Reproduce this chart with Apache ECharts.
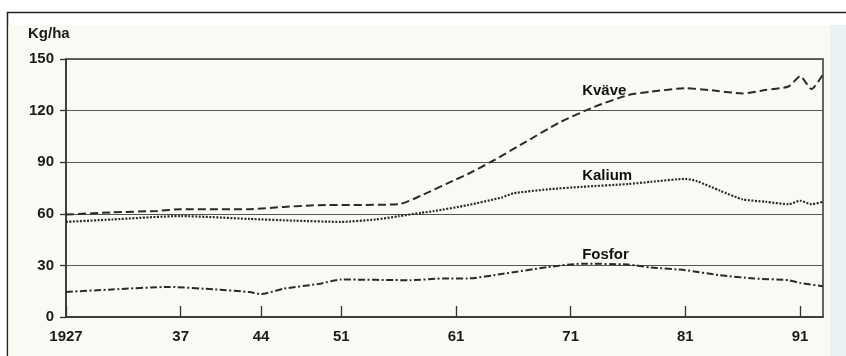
<!DOCTYPE html>
<html>
<head>
<meta charset="utf-8">
<script src="https://cdn.jsdelivr.net/npm/echarts@6/dist/echarts.min.js"></script>
<style>
html,body{margin:0;padding:0;background:#fff;}
#c{width:846px;height:356px;}
</style>
</head>
<body>
<div id="c"></div>
<script>
// Data (year, kg/ha)
const kvaveYears  = [1927,1931,1935,1937,1943,1946,1949,1956,1958,1961,1962,1964,1967,1970,1973,1976,1978,1981,1983,1986,1988,1990,1991,1992,1993];
const kvaveValues = [59.6,60.8,61.7,62.7,62.7,64.0,65.0,65.6,70.7,80.0,83.0,90.0,101.5,113.0,122.0,129.0,131.0,133.0,132.0,130.0,132.0,134.0,140.0,132.5,141.0];

const kaliumYears  = [1927,1931,1937,1943,1947,1951,1954,1956,1958,1959,1962,1965,1966,1969,1972,1976,1978,1981,1982,1984,1986,1988,1990,1991,1992,1993];
const kaliumValues = [55.3,56.7,58.7,57.0,56.0,55.3,56.7,58.6,60.6,61.5,65.0,69.5,71.9,74.2,75.7,77.3,78.6,80.3,79.0,73.5,68.4,67.0,65.6,67.6,65.6,67.0];

const fosforYears  = [1927,1931,1936,1940,1943,1944,1946,1949,1951,1957,1960,1962,1965,1969,1972,1976,1978,1981,1984,1987,1990,1991,1993];
const fosforValues = [14.6,16.0,17.5,16.0,14.5,13.3,16.5,19.2,21.8,21.4,22.4,22.4,25.0,29.0,31.0,30.5,28.8,27.2,24.3,22.4,21.4,19.8,17.9];

const tickYears = [1927,1937,1944,1951,1961,1971,1981,1991];
const tickLabels = ['1927','37','44','51','61','71','81','91'];

const seriesNames = ['Kväve','Kalium','Fosfor'];
const labelYears  = [1972,1972,1972];
const labelValues = [131.4,82.0,36.0];

const yUnit = 'Kg/ha';

function pairs(xs, ys){ return xs.map((x,i)=>[x, ys[i]]); }

const chart = echarts.init(document.getElementById('c'), null, {renderer:'canvas'});
const FONT = 'Liberation Sans, Arial, Helvetica, sans-serif';
const ink = '#2a2a2a';

chart.setOption({
  animation:false,
  backgroundColor:'#ffffff',
  graphic:[
    {type:'rect', z:-10, shape:{x:7.5, y:12.5, width:845, height:350}, style:{fill:'#ffffff', stroke:'#222', lineWidth:1.5}},
    {type:'rect', z:-9, shape:{x:8.5, y:25, width:822, height:331}, style:{fill:'#fafaf5'}},
    {type:'rect', z:-9, shape:{x:830, y:25, width:16, height:331}, style:{fill:'#eaf1f3'}},
    {type:'text', z:10, left:28, top:26, style:{text:yUnit, fill:'#1a1a1a', font:'bold 15px ' + FONT}}
  ],
  grid:{left:66, right:23, top:59, bottom:39, show:true, borderColor:'#333', borderWidth:1.5, backgroundColor:'transparent'},
  xAxis:{
    type:'value', min:1927, max:1993,
    axisLine:{show:true, onZero:false, lineStyle:{color:'#333', width:1.5}},
    axisTick:{show:true, inside:true, length:11, customValues:tickYears, lineStyle:{color:'#333', width:1.3}},
    axisLabel:{show:true, customValues:tickYears, margin:12,
      formatter:(v)=>{const i=tickYears.indexOf(v); return i>=0?tickLabels[i]:'';},
      color:'#1a1a1a', fontFamily:FONT, fontWeight:'bold', fontSize:15},
    splitLine:{show:false}
  },
  yAxis:{
    type:'value', min:0, max:150, interval:30,
    axisLine:{show:true, lineStyle:{color:'#333', width:1.5}},
    axisTick:{show:true, inside:false, length:6, lineStyle:{color:'#333', width:1.3}},
    axisLabel:{margin:12, color:'#1a1a1a', fontFamily:FONT, fontWeight:'bold', fontSize:15},
    splitLine:{show:true, lineStyle:{color:'#555', width:1.2}}
  },
  series:[
    {name:seriesNames[0], type:'line', data:pairs(kvaveYears,kvaveValues), showSymbol:false, smooth:0.2,
     lineStyle:{color:ink, width:2, type:[8,4]}},
    {name:seriesNames[1], type:'line', data:pairs(kaliumYears,kaliumValues), showSymbol:false, smooth:0.2,
     lineStyle:{color:ink, width:2.2, type:[2,1.5]}},
    {name:seriesNames[2], type:'line', data:pairs(fosforYears,fosforValues), showSymbol:false, smooth:0.2,
     lineStyle:{color:ink, width:2, type:[7,2.5,2,2.5]}},
    {name:'labels', type:'scatter', silent:true, z:5,
     data:seriesNames.map((n,i)=>({value:[labelYears[i], labelValues[i]], name:n})),
     symbol:'circle', symbolSize:0, itemStyle:{color:'#fafaf5', opacity:1},
     label:{show:true, position:'right', distance:0, formatter:(p)=>p.name, opacity:1,
       color:'#111111', textBorderWidth:0, fontFamily:FONT, fontWeight:'bold', fontSize:15}}
  ]
});
</script>
</body>
</html>
